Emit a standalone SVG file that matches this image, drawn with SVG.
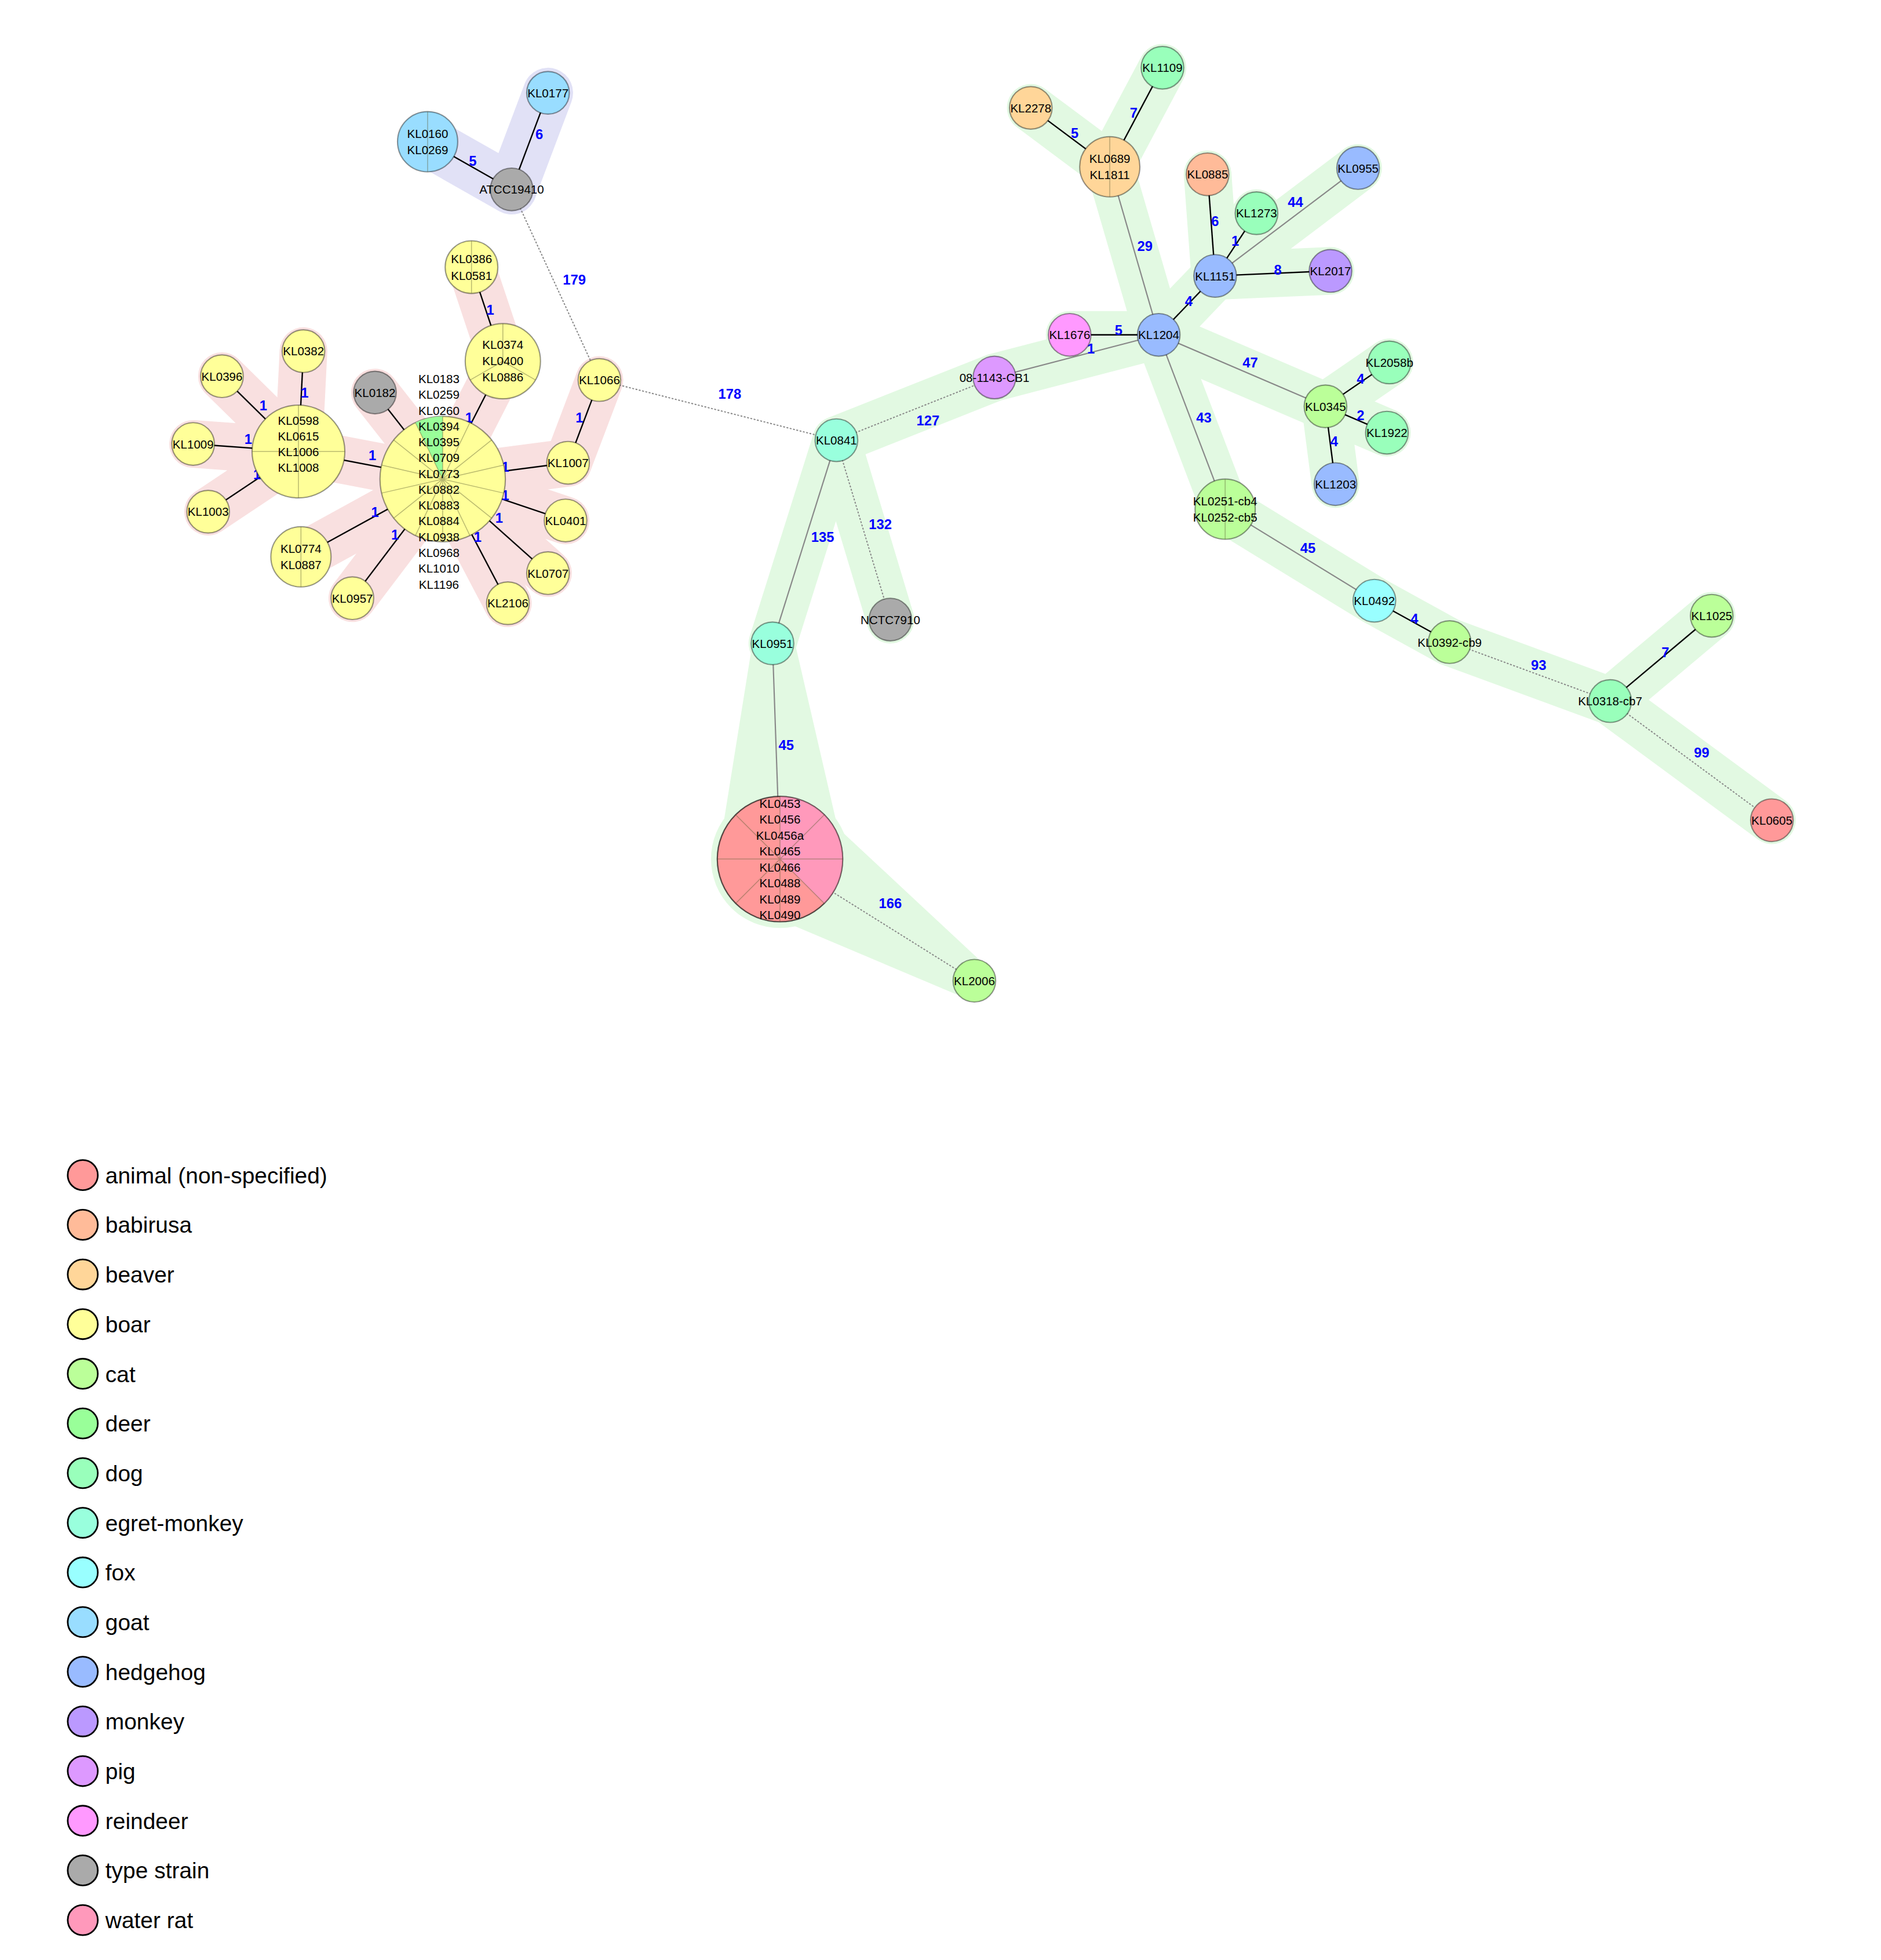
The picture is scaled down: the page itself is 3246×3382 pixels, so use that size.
<svg xmlns="http://www.w3.org/2000/svg" width="3246" height="3382" viewBox="0 0 3246 3382">
<style>
.n{stroke:rgba(0,0,0,0.4);stroke-width:1}
.t{font-family:"Liberation Sans",Arial,sans-serif;font-size:9.5px;text-anchor:middle;fill:#000}
.el{font-family:"Liberation Sans",Arial,sans-serif;font-size:11px;font-weight:bold;fill:#0000ff;text-anchor:middle}
.lg{font-family:"Liberation Sans",Arial,sans-serif;font-size:18px;fill:#000}
.lc{stroke:#000;stroke-width:1.3}
.s{stroke:rgba(100,100,60,0.45);stroke-width:0.7;fill:none}
.eb{stroke:#000;stroke-width:1.1;fill:none}
.eg{stroke:#888;stroke-width:1;fill:none}
.ed{stroke:#888;stroke-width:0.9;stroke-dasharray:1.5,1.2;fill:none}
.hp{stroke:#f9e0e0;fill:none;stroke-linecap:round;stroke-linejoin:round}
.hg{stroke:#e2f9e2;fill:none;stroke-linecap:round;stroke-linejoin:round}
.hl{stroke:#e1e1f6;fill:none;stroke-linecap:round;stroke-linejoin:round}
.c-an{fill:#ff9999}.c-ba{fill:#ffbb99}.c-be{fill:#ffd699}.c-bo{fill:#ffff99}.c-ca{fill:#bbff99}.c-de{fill:#99ff99}.c-do{fill:#99ffbb}.c-eg{fill:#99ffdd}.c-fo{fill:#99ffff}.c-go{fill:#99ddff}.c-he{fill:#99bbff}.c-mo{fill:#bb99ff}.c-pi{fill:#dd99ff}.c-re{fill:#ff99ff}.c-ty{fill:#aaaaaa}.c-wr{fill:#ff99bb}
</style>
<rect width="3246" height="3382" fill="#fff"/>
<g transform="scale(2.164)">
<g id="halos">
<g class="hl" stroke-width="40"><polyline points="341,113 408,151 437,74"/></g>
<g class="hp" stroke-width="38">
<polyline points="376,213 401,288 353,382"/>
<polyline points="242,280 238,360 177,300"/>
<polyline points="154,354 238,360 166,408"/>
<polyline points="238,360 353,382 240,444"/>
<polyline points="281,477 353,382 405,481"/>
<polyline points="437,457 353,382 451,415"/>
<polyline points="353,382 453,369 478,303"/>
<polyline points="299,313 353,382"/>
</g>
<g class="hg" stroke-width="38">
<polyline points="616,513 667,351 710,494"/>
<polyline points="667,351 793,301 924,267 853,267"/>
<polyline points="822,86 885,133 927,54"/>
<polyline points="885,133 924,267 969,220 963,139"/>
<polyline points="1002,170 969,220 1083,134"/>
<polyline points="969,220 1061,216"/>
<polyline points="924,267 1057,324 1108,289"/>
<polyline points="1106,345 1057,324 1065,386"/>
<polyline points="924,267 977,406 1096,479 1156,512 1284,559 1365,491"/>
<polyline points="1284,559 1413,654"/>
</g>
<polygon points="574,675 600,513 634,513 668,660 786,770 770,796 590,720" fill="#e2f9e2"/>
<circle cx="622" cy="685" r="55" fill="#e2f9e2"/>
</g>
<g id="connectors">
<line class="eb" x1="408" y1="151" x2="341" y2="113"/>
<line class="eb" x1="408" y1="151" x2="437" y2="74"/>
<line class="ed" x1="408" y1="151" x2="478" y2="303"/>
<line class="ed" x1="478" y1="303" x2="667" y2="351"/>
<line class="eb" x1="376" y1="213" x2="401" y2="288"/>
<line class="eb" x1="401" y1="288" x2="353" y2="382"/>
<line class="eb" x1="242" y1="280" x2="238" y2="360"/>
<line class="eb" x1="177" y1="300" x2="238" y2="360"/>
<line class="eb" x1="154" y1="354" x2="238" y2="360"/>
<line class="eb" x1="166" y1="408" x2="238" y2="360"/>
<line class="eb" x1="238" y1="360" x2="353" y2="382"/>
<line class="eb" x1="299" y1="313" x2="353" y2="382"/>
<line class="eb" x1="240" y1="444" x2="353" y2="382"/>
<line class="eb" x1="281" y1="477" x2="353" y2="382"/>
<line class="eb" x1="405" y1="481" x2="353" y2="382"/>
<line class="eb" x1="437" y1="457" x2="353" y2="382"/>
<line class="eb" x1="451" y1="415" x2="353" y2="382"/>
<line class="eb" x1="453" y1="369" x2="353" y2="382"/>
<line class="eb" x1="453" y1="369" x2="478" y2="303"/>
<line class="ed" x1="667" y1="351" x2="793" y2="301"/>
<line class="eg" x1="667" y1="351" x2="616" y2="513"/>
<line class="ed" x1="667" y1="351" x2="710" y2="494"/>
<line class="eg" x1="616" y1="513" x2="622" y2="685"/>
<line class="ed" x1="622" y1="685" x2="777" y2="782"/>
<line class="eg" x1="793" y1="301" x2="924" y2="267"/>
<line class="eb" x1="853" y1="267" x2="924" y2="267"/>
<line class="eg" x1="924" y1="267" x2="885" y2="133"/>
<line class="eb" x1="885" y1="133" x2="822" y2="86"/>
<line class="eb" x1="885" y1="133" x2="927" y2="54"/>
<line class="eb" x1="924" y1="267" x2="969" y2="220"/>
<line class="eb" x1="969" y1="220" x2="963" y2="139"/>
<line class="eb" x1="969" y1="220" x2="1002" y2="170"/>
<line class="eg" x1="969" y1="220" x2="1083" y2="134"/>
<line class="eb" x1="969" y1="220" x2="1061" y2="216"/>
<line class="eg" x1="924" y1="267" x2="1057" y2="324"/>
<line class="eb" x1="1057" y1="324" x2="1108" y2="289"/>
<line class="eb" x1="1057" y1="324" x2="1106" y2="345"/>
<line class="eb" x1="1057" y1="324" x2="1065" y2="386"/>
<line class="eg" x1="924" y1="267" x2="977" y2="406"/>
<line class="eg" x1="977" y1="406" x2="1096" y2="479"/>
<line class="eb" x1="1096" y1="479" x2="1156" y2="512"/>
<line class="ed" x1="1156" y1="512" x2="1284" y2="559"/>
<line class="eb" x1="1284" y1="559" x2="1365" y2="491"/>
<line class="ed" x1="1284" y1="559" x2="1413" y2="654"/>
</g>
<g id="edge-labels">
<text class="el" x="430" y="111">6</text><text class="el" x="377" y="132">5</text><text class="el" x="458" y="227">179</text><text class="el" x="582" y="318">178</text><text class="el" x="740" y="339">127</text><text class="el" x="656" y="432">135</text><text class="el" x="702" y="422">132</text><text class="el" x="627" y="598">45</text><text class="el" x="710" y="724">166</text>
<text class="el" x="857" y="110">5</text><text class="el" x="904" y="94">7</text><text class="el" x="913" y="200">29</text><text class="el" x="969" y="180">6</text><text class="el" x="985" y="196">1</text><text class="el" x="1033" y="165">44</text><text class="el" x="1019" y="219">8</text><text class="el" x="948" y="244">4</text><text class="el" x="892" y="267">5</text><text class="el" x="870" y="282">1</text><text class="el" x="997" y="293">47</text><text class="el" x="960" y="337">43</text><text class="el" x="1085" y="306">4</text><text class="el" x="1085" y="335">2</text><text class="el" x="1064" y="356">4</text><text class="el" x="1043" y="441">45</text><text class="el" x="1128" y="497">4</text><text class="el" x="1227" y="534">93</text><text class="el" x="1328" y="524">7</text><text class="el" x="1357" y="604">99</text>
<text class="el" x="243" y="317">1</text><text class="el" x="210" y="327">1</text><text class="el" x="198" y="354">1</text><text class="el" x="205" y="382">1</text><text class="el" x="297" y="367">1</text><text class="el" x="391" y="251">1</text><text class="el" x="374" y="337">1</text><text class="el" x="462" y="337">1</text><text class="el" x="403" y="376">1</text><text class="el" x="403" y="399">1</text><text class="el" x="398" y="417">1</text><text class="el" x="381" y="432">1</text><text class="el" x="299" y="412">1</text><text class="el" x="315" y="430">1</text>
</g>
<g id="n-KL0177"><circle class="n c-go" cx="437" cy="74" r="17"/><text class="t" x="437" y="77.5">KL0177</text></g>
<g id="n-KL0160"><circle class="n c-go" cx="341" cy="113" r="24"/><line class="s" x1="341" y1="89" x2="341" y2="137"/><text class="t" x="341" y="110">KL0160</text><text class="t" x="341" y="123">KL0269</text></g>
<g id="n-ATCC19410"><circle class="n c-ty" cx="408" cy="151" r="17"/><text class="t" x="408" y="154.5">ATCC19410</text></g>
<g id="n-KL0386"><circle class="n c-bo" cx="376" cy="213" r="21"/><line class="s" x1="376" y1="192" x2="376" y2="234"/><text class="t" x="376" y="210">KL0386</text><text class="t" x="376" y="223">KL0581</text></g>
<g id="n-KL0374"><circle class="n c-bo" cx="401" cy="288" r="30"/><path class="s" d="M401,288L401,258M401,288L427,303M401,288L375,303"/><text class="t" x="401" y="278">KL0374</text><text class="t" x="401" y="291">KL0400</text><text class="t" x="401" y="304">KL0886</text></g>
<g id="n-KL0382"><circle class="n c-bo" cx="242" cy="280" r="17"/><text class="t" x="242" y="283.5">KL0382</text></g>
<g id="n-KL0396"><circle class="n c-bo" cx="177" cy="300" r="17"/><text class="t" x="177" y="303.5">KL0396</text></g>
<g id="n-KL0598"><circle class="n c-bo" cx="238" cy="360" r="37"/><path class="s" d="M238,323V397M201,360H275"/><text class="t" x="238" y="338.5">KL0598</text><text class="t" x="238" y="351">KL0615</text><text class="t" x="238" y="363.5">KL1006</text><text class="t" x="238" y="376">KL1008</text></g>
<g id="n-KL1009"><circle class="n c-bo" cx="154" cy="354" r="17"/><text class="t" x="154" y="357.5">KL1009</text></g>
<g id="n-KL1003"><circle class="n c-bo" cx="166" cy="408" r="17"/><text class="t" x="166" y="411.5">KL1003</text></g>
<g id="n-KL0182"><circle class="n c-ty" cx="299" cy="313" r="17"/><text class="t" x="299" y="316.5">KL0182</text></g>
<g id="n-KL0183"><circle class="n c-bo" cx="353" cy="382" r="50"/><path d="M353,382L353,332A50,50 0 0 0 331.3,337Z" fill="#99ff99"/><path class="s" d="M353,382L353,332M353,382L374.7,337M353,382L392.1,350.8M353,382L401.7,370.8M353,382L401.7,393.2M353,382L392.1,413.2M353,382L374.7,427M353,382L353,432M353,382L331.3,427M353,382L313.9,413.2M353,382L304.3,393.2M353,382L304.3,370.8M353,382L313.9,350.8M353,382L331.3,337"/>
<text class="t" x="350" y="305.5">KL0183</text><text class="t" x="350" y="318.1">KL0259</text><text class="t" x="350" y="330.7">KL0260</text><text class="t" x="350" y="343.3">KL0394</text><text class="t" x="350" y="355.9">KL0395</text><text class="t" x="350" y="368.5">KL0709</text><text class="t" x="350" y="381.1">KL0773</text><text class="t" x="350" y="393.7">KL0882</text><text class="t" x="350" y="406.3">KL0883</text><text class="t" x="350" y="418.9">KL0884</text><text class="t" x="350" y="431.5">KL0938</text><text class="t" x="350" y="444.1">KL0968</text><text class="t" x="350" y="456.7">KL1010</text><text class="t" x="350" y="469.3">KL1196</text></g>
<g id="n-KL1066"><circle class="n c-bo" cx="478" cy="303" r="17"/><text class="t" x="478" y="306.5">KL1066</text></g>
<g id="n-KL1007"><circle class="n c-bo" cx="453" cy="369" r="17"/><text class="t" x="453" y="372.5">KL1007</text></g>
<g id="n-KL0401"><circle class="n c-bo" cx="451" cy="415" r="17"/><text class="t" x="451" y="418.5">KL0401</text></g>
<g id="n-KL0707"><circle class="n c-bo" cx="437" cy="457" r="17"/><text class="t" x="437" y="460.5">KL0707</text></g>
<g id="n-KL2106"><circle class="n c-bo" cx="405" cy="481" r="17"/><text class="t" x="405" y="484.5">KL2106</text></g>
<g id="n-KL0957"><circle class="n c-bo" cx="281" cy="477" r="17"/><text class="t" x="281" y="480.5">KL0957</text></g>
<g id="n-KL0774"><circle class="n c-bo" cx="240" cy="444" r="24"/><line class="s" x1="240" y1="420" x2="240" y2="468"/><text class="t" x="240" y="441">KL0774</text><text class="t" x="240" y="454">KL0887</text></g>
<g id="n-KL0841"><circle class="n c-eg" cx="667" cy="351" r="17"/><text class="t" x="667" y="354.5">KL0841</text></g>
<g id="n-NCTC7910"><circle class="n c-ty" cx="710" cy="494" r="17"/><text class="t" x="710" y="497.5">NCTC7910</text></g>
<g id="n-KL0951"><circle class="n c-eg" cx="616" cy="513" r="17"/><text class="t" x="616" y="516.5">KL0951</text></g>
<g id="n-KL0453"><circle class="n c-an" cx="622" cy="685" r="50"/><path d="M622,685L622,635A50,50 0 0 1 657.4,720.4Z" fill="#ff99bb"/><path class="s" d="M622,685L622,635M622,685L657.4,649.6M622,685L672,685M622,685L657.4,720.4M622,685L622,735M622,685L586.6,720.4M622,685L572,685M622,685L586.6,649.6"/><circle cx="622" cy="685" r="50" fill="none" class="n"/>
<text class="t" x="622" y="644">KL0453</text><text class="t" x="622" y="656.7">KL0456</text><text class="t" x="622" y="669.4">KL0456a</text><text class="t" x="622" y="682.1">KL0465</text><text class="t" x="622" y="694.8">KL0466</text><text class="t" x="622" y="707.5">KL0488</text><text class="t" x="622" y="720.2">KL0489</text><text class="t" x="622" y="732.9">KL0490</text></g>
<g id="n-KL2006"><circle class="n c-ca" cx="777" cy="782" r="17"/><text class="t" x="777" y="785.5">KL2006</text></g>
<g id="n-08-1143-CB1"><circle class="n c-pi" cx="793" cy="301" r="17"/><text class="t" x="793" y="304.5">08-1143-CB1</text></g>
<g id="n-KL1676"><circle class="n c-re" cx="853" cy="267" r="17"/><text class="t" x="853" y="270.5">KL1676</text></g>
<g id="n-KL1204"><circle class="n c-he" cx="924" cy="267" r="17"/><text class="t" x="924" y="270.5">KL1204</text></g>
<g id="n-KL2278"><circle class="n c-be" cx="822" cy="86" r="17"/><text class="t" x="822" y="89.5">KL2278</text></g>
<g id="n-KL0689"><circle class="n c-be" cx="885" cy="133" r="24"/><line class="s" x1="885" y1="109" x2="885" y2="157"/><text class="t" x="885" y="130">KL0689</text><text class="t" x="885" y="143">KL1811</text></g>
<g id="n-KL1109"><circle class="n c-do" cx="927" cy="54" r="17"/><text class="t" x="927" y="57.5">KL1109</text></g>
<g id="n-KL0885"><circle class="n c-ba" cx="963" cy="139" r="17"/><text class="t" x="963" y="142.5">KL0885</text></g>
<g id="n-KL1273"><circle class="n c-do" cx="1002" cy="170" r="17"/><text class="t" x="1002" y="173.5">KL1273</text></g>
<g id="n-KL0955"><circle class="n c-he" cx="1083" cy="134" r="17"/><text class="t" x="1083" y="137.5">KL0955</text></g>
<g id="n-KL1151"><circle class="n c-he" cx="969" cy="220" r="17"/><text class="t" x="969" y="223.5">KL1151</text></g>
<g id="n-KL2017"><circle class="n c-mo" cx="1061" cy="216" r="17"/><text class="t" x="1061" y="219.5">KL2017</text></g>
<g id="n-KL2058b"><circle class="n c-do" cx="1108" cy="289" r="17"/><text class="t" x="1108" y="292.5">KL2058b</text></g>
<g id="n-KL0345"><circle class="n c-ca" cx="1057" cy="324" r="17"/><text class="t" x="1057" y="327.5">KL0345</text></g>
<g id="n-KL1922"><circle class="n c-do" cx="1106" cy="345" r="17"/><text class="t" x="1106" y="348.5">KL1922</text></g>
<g id="n-KL1203"><circle class="n c-he" cx="1065" cy="386" r="17"/><text class="t" x="1065" y="389.5">KL1203</text></g>
<g id="n-KL0251-cb4"><circle class="n c-ca" cx="977" cy="406" r="24"/><line class="s" x1="977" y1="382" x2="977" y2="430"/><text class="t" x="977" y="403">KL0251-cb4</text><text class="t" x="977" y="416">KL0252-cb5</text></g>
<g id="n-KL0492"><circle class="n c-fo" cx="1096" cy="479" r="17"/><text class="t" x="1096" y="482.5">KL0492</text></g>
<g id="n-KL0392-cb9"><circle class="n c-ca" cx="1156" cy="512" r="17"/><text class="t" x="1156" y="515.5">KL0392-cb9</text></g>
<g id="n-KL0318-cb7"><circle class="n c-do" cx="1284" cy="559" r="17"/><text class="t" x="1284" y="562.5">KL0318-cb7</text></g>
<g id="n-KL1025"><circle class="n c-ca" cx="1365" cy="491" r="17"/><text class="t" x="1365" y="494.5">KL1025</text></g>
<g id="n-KL0605"><circle class="n c-an" cx="1413" cy="654" r="17"/><text class="t" x="1413" y="657.5">KL0605</text></g>
<g id="legend">
<circle class="lc c-an" cx="66" cy="937" r="12"/><text class="lg" x="84" y="943.5">animal (non-specified)</text>
<circle class="lc c-ba" cx="66" cy="976.6" r="12"/><text class="lg" x="84" y="983.1">babirusa</text>
<circle class="lc c-be" cx="66" cy="1016.2" r="12"/><text class="lg" x="84" y="1022.7">beaver</text>
<circle class="lc c-bo" cx="66" cy="1055.8" r="12"/><text class="lg" x="84" y="1062.3">boar</text>
<circle class="lc c-ca" cx="66" cy="1095.4" r="12"/><text class="lg" x="84" y="1101.9">cat</text>
<circle class="lc c-de" cx="66" cy="1135" r="12"/><text class="lg" x="84" y="1141.5">deer</text>
<circle class="lc c-do" cx="66" cy="1174.6" r="12"/><text class="lg" x="84" y="1181.1">dog</text>
<circle class="lc c-eg" cx="66" cy="1214.2" r="12"/><text class="lg" x="84" y="1220.7">egret-monkey</text>
<circle class="lc c-fo" cx="66" cy="1253.8" r="12"/><text class="lg" x="84" y="1260.3">fox</text>
<circle class="lc c-go" cx="66" cy="1293.4" r="12"/><text class="lg" x="84" y="1299.9">goat</text>
<circle class="lc c-he" cx="66" cy="1333" r="12"/><text class="lg" x="84" y="1339.5">hedgehog</text>
<circle class="lc c-mo" cx="66" cy="1372.6" r="12"/><text class="lg" x="84" y="1379.1">monkey</text>
<circle class="lc c-pi" cx="66" cy="1412.2" r="12"/><text class="lg" x="84" y="1418.7">pig</text>
<circle class="lc c-re" cx="66" cy="1451.8" r="12"/><text class="lg" x="84" y="1458.3">reindeer</text>
<circle class="lc c-ty" cx="66" cy="1491.4" r="12"/><text class="lg" x="84" y="1497.9">type strain</text>
<circle class="lc c-wr" cx="66" cy="1531" r="12"/><text class="lg" x="84" y="1537.5">water rat</text>
</g>
</g>
</svg>
